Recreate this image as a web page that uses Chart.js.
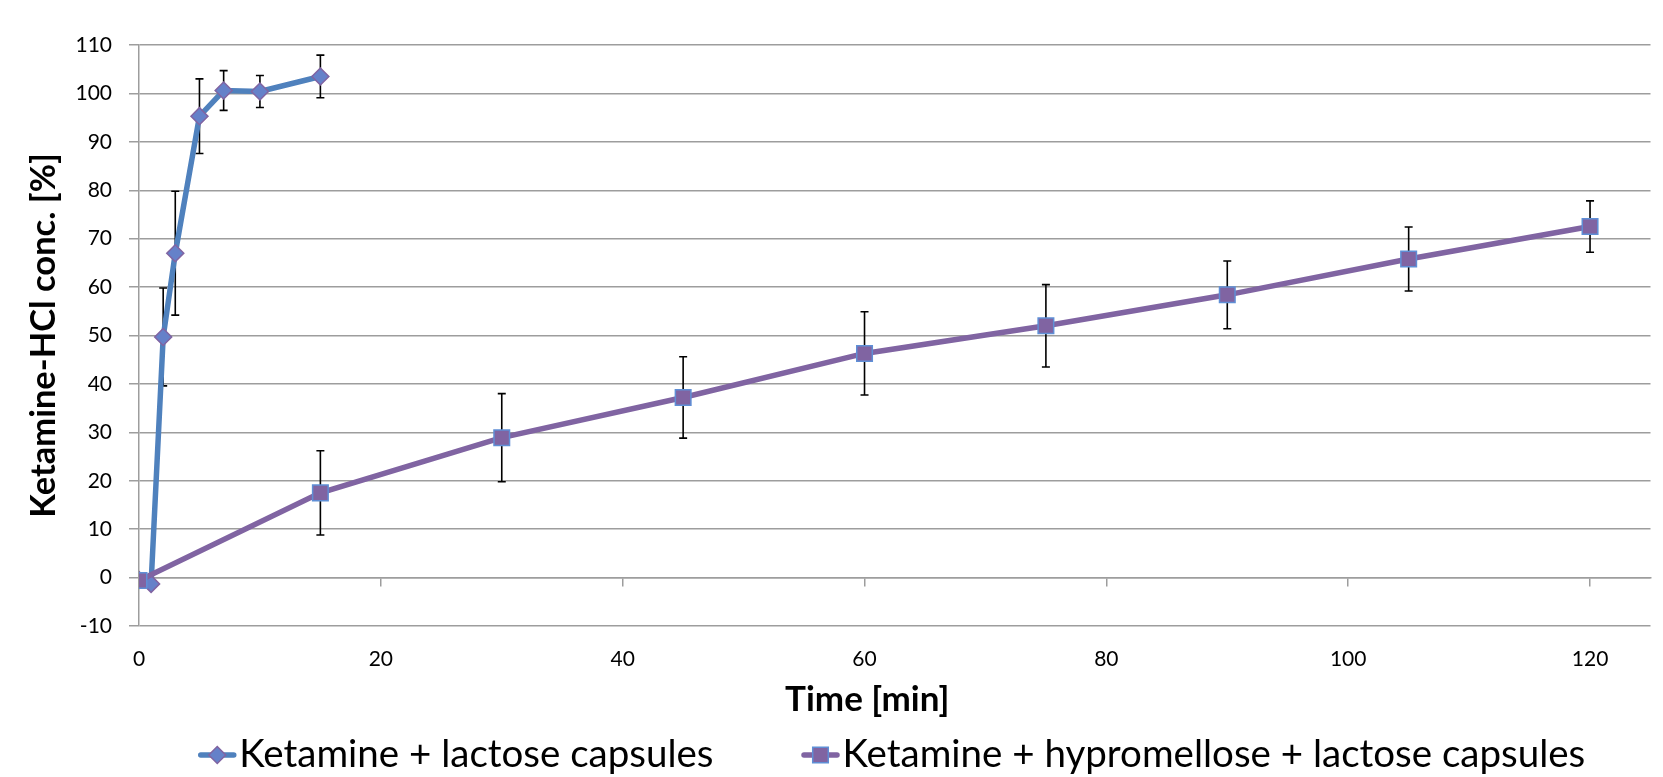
<!DOCTYPE html>
<html>
<head>
<meta charset="utf-8">
<script src="https://cdn.jsdelivr.net/npm/chart.js@4/dist/chart.umd.min.js"></script>
<style>
html,body{margin:0;padding:0;background:#fff;}
#wrap{width:1663px;height:777px;position:relative;}
</style>
</head>
<body>
<div id="wrap"><canvas id="c"></canvas></div>
<script>
// ---- data ----
const series1Label = 'Ketamine + lactose capsules';
const series2Label = 'Ketamine + hypromellose + lactose capsules';
const time1 = [0, 1, 2, 3, 5, 7, 10, 15];
const conc1 = [-0.5, -1.3, 49.7, 67.0, 95.3, 100.6, 100.4, 103.5];
const err1  = [0, 0, 10.1, 12.8, 7.7, 4.1, 3.3, 4.4];
const time2 = [0, 15, 30, 45, 60, 75, 90, 105, 120];
const conc2 = [-0.6, 17.5, 28.9, 37.2, 46.3, 52.0, 58.4, 65.8, 72.5];
const err2  = [0, 8.7, 9.1, 8.4, 8.6, 8.5, 7.0, 6.6, 5.3];
const xTickValues = [0, 20, 40, 60, 80, 100, 120];
const yTickValues = [-10, 0, 10, 20, 30, 40, 50, 60, 70, 80, 90, 100, 110];
const xTitle = 'Time [min]';
const yTitle = 'Ketamine-HCl conc. [%]';

// ---- styles ----
const gridColor = '#9d9d9d';
const blue = '#4F81BD';
const purple = '#8064A2';
const FONT = 'Lato';

const errorBars = {
  id: 'errorBars',
  beforeDatasetsDraw(chart) {
    const {ctx} = chart;
    const x = chart.scales.x, y = chart.scales.y;
    ctx.save();
    ctx.strokeStyle = '#000';
    ctx.lineWidth = 1.6;
    chart.data.datasets.forEach(ds => {
      (ds.errors || []).forEach((e, i) => {
        if (!e) return;
        const p = ds.data[i];
        const px = x.getPixelForValue(p.x);
        const yt = y.getPixelForValue(p.y + e);
        const yb = y.getPixelForValue(p.y - e);
        ctx.beginPath();
        ctx.moveTo(px, yt); ctx.lineTo(px, yb);
        ctx.moveTo(px - 4, yt); ctx.lineTo(px + 4, yt);
        ctx.moveTo(px - 4, yb); ctx.lineTo(px + 4, yb);
        ctx.stroke();
      });
    });
    ctx.restore();
  }
};

const customLegend = {
  id: 'customLegend',
  afterDraw(chart) {
    const {ctx, chartArea} = chart;
    const ds = chart.data.datasets;
    ctx.save();
    // x-axis title (placed left of centre, as in the original)
    ctx.font = 'bold 35px ' + FONT;
    ctx.fillStyle = '#000';
    ctx.textAlign = 'center';
    ctx.textBaseline = 'alphabetic';
    ctx.fillText(xTitle, (chartArea.left + chartArea.right) / 2 - 27.5, 711);

    // legend
    const fontSize = 38.5;
    ctx.font = fontSize + 'px ' + FONT;
    const symW = 38, gapText = 3, gapItems = 88;
    const widths = ds.map(d => ctx.measureText(d.label).width);
    const total = ds.length * (symW + gapText) + widths.reduce((a, b) => a + b, 0) + gapItems * (ds.length - 1);
    let x = (chartArea.left + chartArea.right) / 2 - 3 - total / 2;
    const yc = 755, yBase = 767;
    ds.forEach((d, i) => {
      ctx.strokeStyle = d.borderColor;
      ctx.lineWidth = d.borderWidth;
      ctx.lineCap = 'round';
      ctx.beginPath();
      ctx.moveTo(x + 2.5, yc); ctx.lineTo(x + symW - 2.5, yc);
      ctx.stroke();
      ctx.fillStyle = d.pointBackgroundColor;
      ctx.strokeStyle = d.pointBorderColor;
      ctx.lineWidth = d.pointBorderWidth;
      Chart.helpers.drawPoint(ctx, {pointStyle: d.pointStyle, radius: d.pointRadius, borderWidth: d.pointBorderWidth, rotation: 0}, x + symW / 2, yc);
      ctx.fillStyle = '#000';
      ctx.textBaseline = 'alphabetic';
      ctx.textAlign = 'left';
      ctx.fillText(d.label, x + symW + gapText, yBase);
      x += symW + gapText + widths[i] + gapItems;
    });
    ctx.restore();
  }
};

new Chart(document.getElementById('c'), {
  type: 'line',
  data: {
    datasets: [
      {
        label: series1Label,
        data: time1.map((t, i) => ({x: t, y: conc1[i]})),
        errors: err1,
        borderColor: blue,
        borderWidth: 5.5,
        pointStyle: 'rectRot',
        pointRadius: 8.5,
        pointBackgroundColor: '#6581C9',
        pointBorderColor: purple,
        pointBorderWidth: 1.5,
        tension: 0,
        fill: false,
        order: 2
      },
      {
        label: series2Label,
        data: time2.map((t, i) => ({x: t, y: conc2[i]})),
        errors: err2,
        borderColor: purple,
        borderWidth: 5.5,
        pointStyle: 'rect',
        pointRadius: 11,
        pointBackgroundColor: purple,
        pointBorderColor: '#5F8FD6',
        pointBorderWidth: 1.5,
        tension: 0,
        fill: false,
        order: 1
      }
    ]
  },
  options: {
    responsive: true,
    maintainAspectRatio: false,
    animation: false,
    layout: {padding: {top: 45, left: 0, right: 0, bottom: 51}},
    plugins: {legend: {display: false}, tooltip: {enabled: false}},
    scales: {
      x: {
        type: 'linear',
        position: 'bottom',
        min: 0, max: 125,
        afterBuildTicks: s => { s.ticks = xTickValues.map(v => ({value: v})); },
        afterFit: s => { s.height = 100; },
        grid: {display: false, drawTicks: false},
        border: {display: false},
        ticks: {color: '#000', font: {family: FONT, size: 21}, padding: 21, maxRotation: 0, callback: v => String(v)},
        title: {display: false, text: xTitle}
      },
      x2: {
        type: 'linear',
        axis: 'x',
        position: {y: 0},
        min: 0, max: 125,
        afterBuildTicks: s => { s.ticks = xTickValues.map(v => ({value: v})); },
        afterFit: s => { s.height = 0; },
        grid: {drawOnChartArea: false, drawTicks: true, tickLength: 8, color: gridColor, lineWidth: 1.5},
        border: {display: true, color: gridColor, width: 1.5},
        ticks: {display: false}
      },
      y: {
        type: 'linear',
        position: 'left',
        min: -10, max: 110,
        afterBuildTicks: s => { s.ticks = yTickValues.map(v => ({value: v})); },
        afterFit: s => { s.width = 139; },
        grid: {color: gridColor, lineWidth: 1.5, tickLength: 10, drawTicks: true},
        border: {display: true, color: gridColor, width: 1.5},
        ticks: {color: '#000', font: {family: FONT, size: 21}, padding: 17, callback: v => String(v)},
        title: {display: true, text: yTitle, color: '#000', font: {family: FONT, size: 34.5, weight: 'bold'}, padding: {top: 23, bottom: 0}}
      }
    }
  },
  plugins: [errorBars, customLegend]
});
</script>
</body>
</html>
